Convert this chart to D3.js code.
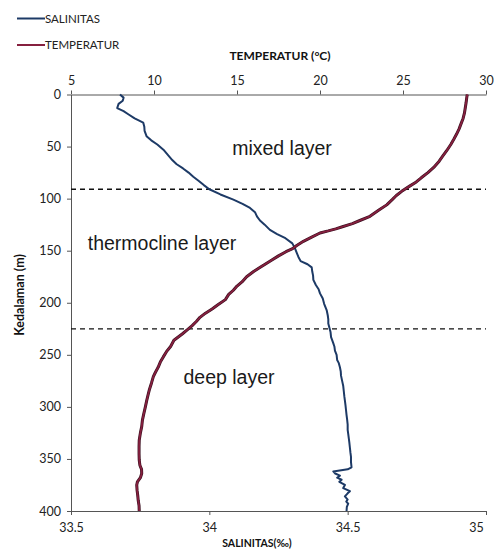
<!DOCTYPE html>
<html>
<head>
<meta charset="utf-8">
<script src="https://cdn.jsdelivr.net/npm/d3@7"></script>
<style>
  html, body { margin: 0; padding: 0; background: #ffffff; }
  svg { display: block; }
  .tick text { font-family: Lato, "Open Sans", sans-serif; fill: #222; }
</style>
</head>
<body>
<svg id="chart" width="494" height="549"></svg>
<script>
// Salinity profile: depth (m) and salinity (‰)
const salDepth = [0,3,6,9,13,16,19,23,27,31,35,40,44,48,53,58,63,67,71,75,79,83,87,91,96,101,105,109,113,117,121,125,130,134,138,143,148,152,156,160,163,166,170,174,178,183,187,191,196,201,207,212,216,220,224,228,233,238,242,246,250,255,258,262,266,270,275,280,285,290,294,298,303,308,312,317,322,326,330,334,339,344,348,353,358,360,362,364,366,368,370,372,375,378,381,383,386,389,391,393,396,400];
const salinity = [33.677,33.69,33.687,33.672,33.667,33.69,33.707,33.73,33.761,33.765,33.766,33.773,33.79,33.812,33.834,33.85,33.866,33.882,33.905,33.925,33.942,33.962,33.98,34.0,34.04,34.087,34.12,34.147,34.165,34.172,34.183,34.2,34.219,34.245,34.275,34.3,34.31,34.316,34.322,34.33,34.355,34.37,34.372,34.375,34.376,34.385,34.395,34.4,34.41,34.415,34.424,34.428,34.43,34.43,34.434,34.438,34.44,34.447,34.452,34.454,34.46,34.462,34.468,34.472,34.475,34.476,34.48,34.484,34.486,34.488,34.49,34.492,34.494,34.496,34.498,34.5,34.5,34.502,34.504,34.506,34.508,34.51,34.512,34.512,34.514,34.5,34.448,34.455,34.472,34.462,34.478,34.47,34.49,34.484,34.508,34.5,34.49,34.5,34.495,34.502,34.497,34.496];

// Temperature profile: depth (m) and temperature (°C)
const tempDepth = [0,3,8,13,18,23,28,33,38,43,48,54,59,64,70,75,80,84,88,93,97,101,106,111,117,121,124,127,129,131,133,137,141,145,148,151,155,159,162,166,170,175,180,184,188,192,197,202,206,210,214,218,222,226,230,236,242,247,252,257,262,267,271,277,283,288,294,300,307,313,319,325,332,338,345,351,356,360,364,368,372,375,380,385,390,395,400];
const temperature = [28.87,28.84,28.8,28.75,28.7,28.62,28.5,28.38,28.23,28.06,27.88,27.63,27.4,27.18,26.85,26.5,26.1,25.8,25.4,24.92,24.6,24.35,24.02,23.55,23.01,22.4,21.95,21.35,20.95,20.5,20.0,19.5,19.0,18.6,18.35,17.95,17.5,17.1,16.79,16.4,16.0,15.58,15.3,15.0,14.78,14.5,14.3,13.85,13.5,13.1,12.77,12.55,12.3,12.0,11.7,11.2,11.0,10.75,10.56,10.38,10.25,10.08,9.96,9.85,9.73,9.65,9.56,9.48,9.38,9.3,9.26,9.18,9.11,9.1,9.1,9.11,9.15,9.25,9.26,9.18,9.0,8.96,8.98,9.02,9.05,9.1,9.11];

// Axis ticks
const tempTicks = [5, 10, 15, 20, 25, 30];
const salTicks = [33.5, 34, 34.5, 35];
const depthTicks = [0, 50, 100, 150, 200, 250, 300, 350, 400];

// Layer boundaries (m) and layer names
const layerBounds = [91, 225];
const layerNames = ["mixed layer", "thermocline layer", "deep layer"];
const layerLabelDepth = [58, 149, 278];

const colors = { sal: "#1d3a66", temp: "#86203f" };

const svg = d3.select("#chart");
const plotLeft = 71, plotRight = 486, plotTop = 94.5, plotBottom = 511;

const x = d3.scaleLinear().domain([5, 30]).range([plotLeft, plotRight]);
const xs = d3.scaleLinear().domain([33.5, 35]).range([plotLeft, plotRight]);
const y = d3.scaleLinear().domain([0, 400]).range([plotTop, plotBottom]);

// Axes
const axisStyle = g => {
  g.select(".domain").attr("stroke", "#555").attr("stroke-width", 1);
  g.selectAll(".tick line").attr("stroke", "#555");
  g.selectAll(".tick text").style("font-size", "12.5px");
};

svg.append("g")
  .attr("transform", `translate(0,${plotTop})`)
  .call(d3.axisTop(x).tickValues(tempTicks).tickSize(4).tickSizeOuter(0).tickPadding(6))
  .call(axisStyle);

svg.append("g")
  .attr("transform", `translate(0,${plotBottom})`)
  .call(d3.axisBottom(xs).tickValues(salTicks).tickSize(4).tickSizeOuter(0).tickPadding(8)
    .tickFormat(d => d))
  .call(axisStyle)
  .call(g => g.selectAll(".tick text").filter(d => d === 35).attr("dx", -10));

svg.append("g")
  .attr("transform", `translate(${plotLeft},0)`)
  .call(d3.axisLeft(y).tickValues(depthTicks).tickSize(4).tickSizeOuter(0).tickPadding(6))
  .call(axisStyle);

// Layer boundaries
svg.selectAll(".bound").data(layerBounds).enter().append("line")
  .attr("x1", plotLeft).attr("x2", plotRight)
  .attr("y1", d => y(d)).attr("y2", d => y(d))
  .attr("stroke", "#111").attr("stroke-width", 1.3)
  .attr("stroke-dasharray", "5,4");

// Layer names
const labelX = [282, 162, 229];
svg.selectAll(".layer").data(layerNames).enter().append("text")
  .attr("x", (d, i) => labelX[i])
  .attr("y", (d, i) => y(layerLabelDepth[i]))
  .attr("text-anchor", "middle")
  .attr("font-family", "'Liberation Sans', Arial, sans-serif")
  .attr("font-size", 19.5)
  .attr("fill", "#1a1a1a")
  .text(d => d);

// Profiles
const salLine = d3.line()
  .x((d, i) => xs(salinity[i]))
  .y(d => y(d));
const tempLine = d3.line()
  .x((d, i) => x(temperature[i]))
  .y(d => y(d));

svg.append("path").datum(salDepth)
  .attr("d", salLine)
  .attr("fill", "none").attr("stroke", colors.sal)
  .attr("stroke-width", 2).attr("stroke-linejoin", "round");

svg.append("path").datum(tempDepth)
  .attr("d", tempLine)
  .attr("fill", "none").attr("stroke", "#3a1020")
  .attr("stroke-width", 3).attr("stroke-linejoin", "round");
svg.append("path").datum(tempDepth)
  .attr("d", tempLine)
  .attr("fill", "none").attr("stroke", colors.temp)
  .attr("stroke-width", 1.8).attr("stroke-linejoin", "round");

// Axis titles
svg.append("text")
  .attr("x", 280).attr("y", 60)
  .attr("text-anchor", "middle")
  .attr("font-family", "Lato, sans-serif").attr("font-weight", "bold")
  .attr("font-size", 12).attr("fill", "#111")
  .text("TEMPERATUR (°C)");

svg.append("text")
  .attr("x", 257).attr("y", 547)
  .attr("text-anchor", "middle")
  .attr("font-family", "Lato, sans-serif").attr("font-weight", "bold")
  .attr("font-size", 10.5).attr("fill", "#111")
  .text("SALINITAS(‰)");

svg.append("text")
  .attr("transform", "translate(24,295) rotate(-90)")
  .attr("text-anchor", "middle")
  .attr("font-family", "Lato, sans-serif").attr("font-weight", "bold")
  .attr("font-size", 12.5).attr("fill", "#111")
  .text("Kedalaman (m)");

// Legend
const legend = [
  { name: "SALINITAS", color: colors.sal, y: 18.5 },
  { name: "TEMPERATUR", color: colors.temp, y: 45 }
];
const lg = svg.selectAll(".legend").data(legend).enter().append("g");
lg.append("line")
  .attr("x1", 17).attr("x2", 45)
  .attr("y1", d => d.y).attr("y2", d => d.y)
  .attr("stroke", d => d.color).attr("stroke-width", 2);
lg.append("text")
  .attr("x", 45).attr("y", d => d.y + 4)
  .attr("font-family", "Lato, sans-serif")
  .attr("font-size", 11.5).attr("fill", "#222")
  .text(d => d.name);
</script>
</body>
</html>
